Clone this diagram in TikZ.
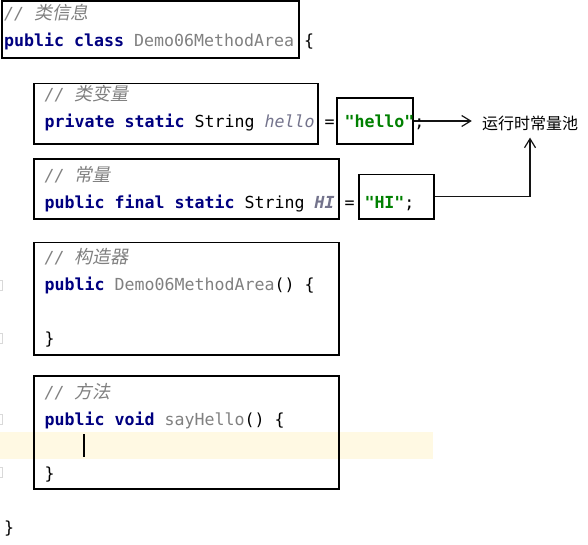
\documentclass[tikz,border=0pt]{standalone}
\usepackage{fontspec}
\setmonofont{DejaVu Sans Mono}
\newfontfamily\cjkit[FakeSlant=0.2]{Noto Sans CJK SC}
\newfontfamily\cjkup{Noto Sans CJK SC}
\usetikzlibrary{fit,arrows.meta}
\definecolor{kwc}{RGB}{0,0,128}
\definecolor{cmtc}{RGB}{128,128,128}
\definecolor{clsc}{RGB}{128,128,128}
\definecolor{fldc}{RGB}{115,115,140}
\definecolor{strc}{RGB}{0,128,0}
\definecolor{hlc}{RGB}{255,249,227}
\definecolor{linec}{RGB}{20,20,20}
\newcommand{\kw}[1]{{\bfseries\color{kwc}#1}}
\newcommand{\cls}[1]{{\color{clsc}#1}}
\newcommand{\fld}[1]{{\itshape\color{fldc}#1}}
\newcommand{\bfld}[1]{{\bfseries\itshape\color{fldc}#1}}
\newcommand{\strl}[1]{{\bfseries\color{strc}#1}}
\newcommand{\cmt}[1]{{\color{cmtc}{\itshape // }{\cjkit\fontsize{18}{20}\selectfont #1}}}
\tikzset{
  frame/.style={draw=black, line width=1.2pt, inner sep=0pt},
  codeline/.style={anchor=base west, inner sep=0pt, font=\ttfamily\fontsize{16.6}{20}\selectfont},
  poollabel/.style={inner sep=0pt, font=\cjkup\fontsize{16}{20}\selectfont},
  arr/.style={draw=linec, line width=1.2pt, -{Straight Barb[length=9pt,width=11pt]}},
  fold/.style={draw=black!15, line width=0.8pt},
}
\begin{document}
\begin{tikzpicture}[x=1pt,y=-1pt]
\useasboundingbox (0,0) rectangle (588,544);
\fill[white] (0,0) rectangle (588,544);
% caret line highlight
\fill[hlc] (0,432) rectangle (433,459);
% gutter fold marks
\foreach \yy in {285,338,419,472} \draw[fold] (-6,\yy-5) rectangle (2.5,\yy+5);
% boxes
\node[frame, fit={(2,1) (299,58)}] (b1) {};
\node[frame, fit={(34,83.5) (318,144)}] (b2) {};
\node[frame, fit={(337,98) (413,144)}] (hb) {};
\node[frame, fit={(34,159) (339,219)}] (b3) {};
\node[frame, fit={(359,174.5) (434,219)}] (hib) {};
\node[frame, fit={(34,242.5) (339,355)}] (b4) {};
\node[frame, fit={(34,376) (339,489)}] (b5) {};
% pool label
\node[poollabel] (pool) at (530,123) {运行时常量池};
% connectors
\coordinate (tip1) at ([xshift=-10pt]pool.west |- hb.east);
\coordinate (tip2) at ([yshift=-7pt]pool.south);
\draw[arr] (hb.east) -- (tip1);
\draw[arr] (hib.east) -| (tip2);
% code text
\node[codeline] (c1a) at (4,19) {\cmt{类信息}};
\node[codeline] (c1b) at (4,46) {\kw{public class} \cls{Demo06MethodArea} \{};
\node[codeline] (c2a) at (44.5,100) {\cmt{类变量}};
\node[codeline] (c2b) at (44.5,127) {\kw{private static} String \fld{hello} = \strl{"hello"};};
\node[codeline] (c3a) at (44.5,181) {\cmt{常量}};
\node[codeline] (c3b) at (44.5,208) {\kw{public final static} String \bfld{HI} = \strl{"HI"};};
\node[codeline] (c4a) at (44.5,263) {\cmt{构造器}};
\node[codeline] (c4b) at (44.5,290) {\kw{public} \cls{Demo06MethodArea}() \{};
\node[codeline] (c4c) at (44.5,344) {\}};
\node[codeline] (c5a) at (44.5,398) {\cmt{方法}};
\node[codeline] (c5b) at (44.5,425) {\kw{public void} \cls{sayHello}() \{};
\node[codeline] (c5c) at (44.5,479) {\}};
\node[codeline] (c6) at (4,533) {\}};
% caret
\draw[line width=2pt, black] (84,434) -- (84,457);
\end{tikzpicture}
\end{document}
